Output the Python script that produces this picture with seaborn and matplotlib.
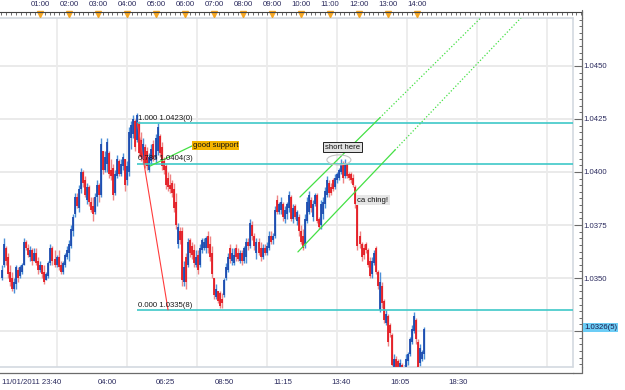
import numpy as np
import pandas as pd
import matplotlib
matplotlib.use("Agg")
import matplotlib.pyplot as plt
import matplotlib.transforms as mtrans
from matplotlib.lines import Line2D
from matplotlib.patches import Ellipse
from matplotlib.ticker import FixedLocator, MultipleLocator
import seaborn as sns

# --- DATA: 5-minute bars, prices in pips above 1.0300 ---
hi = [56, 69, 65, 62, 56, 53, 50, 56, 55, 56,
      57, 69, 68, 66, 65, 64, 64, 64, 60, 58,
      56, 56, 53, 58, 66, 65, 63, 61, 63, 58,
      58, 62, 65, 68, 75, 80, 90, 90, 94, 102,
      101, 98, 95, 94, 88, 88, 90, 96, 95, 116,
      110, 110, 116, 110, 106, 104, 101, 108, 106, 106,
      109, 106, 105, 121, 124, 127, 125, 128, 124, 119,
      116, 113, 112, 109, 113, 115, 118, 123, 118, 114,
      107, 104, 100, 99, 96, 95, 90, 76, 74, 74,
      58, 62, 69, 69, 67, 66, 63, 63, 66, 69,
      69, 70, 72, 70, 65, 50, 47, 44, 44, 43,
      50, 57, 62, 66, 64, 64, 66, 64, 63, 63,
      65, 69, 69, 78, 77, 71, 69, 69, 67, 66,
      66, 67, 72, 72, 71, 84, 89, 86, 88, 86,
      84, 86, 91, 89, 85, 85, 82, 80, 75, 73,
      80, 88, 91, 88, 87, 90, 90, 79, 87, 88,
      93, 98, 96, 95, 97, 99, 100, 102, 106, 105,
      106, 104, 100, 100, 99, 94, 88, 72, 67, 66,
      67, 64, 60, 60, 63, 65, 54, 53, 48, 40,
      35, 33, 29, 24, 14, 13, 12, 12, 10, 9,
      14, 15, 22, 28, 34, 31, 21, 19, 16, 27]
lo = [49, 55, 56, 50, 46, 44, 43, 45, 48, 50,
      52, 56, 63, 60, 58, 56, 58, 56, 52, 53,
      50, 47, 49, 50, 56, 56, 55, 55, 54, 52,
      52, 55, 59, 58, 64, 70, 79, 83, 81, 90,
      93, 88, 85, 84, 81, 77, 80, 84, 86, 88,
      99, 100, 100, 97, 96, 87, 89, 97, 98, 98,
      101, 91, 94, 98, 111, 116, 110, 114, 107, 105,
      104, 102, 101, 100, 104, 105, 104, 108, 107, 101,
      99, 92, 91, 90, 88, 81, 73, 64, 66, 46,
      46, 45, 55, 60, 59, 55, 55, 52, 55, 62,
      63, 62, 62, 58, 50, 40, 40, 38, 36, 36,
      41, 49, 53, 57, 56, 56, 58, 58, 57, 56,
      57, 57, 63, 64, 68, 63, 59, 61, 58, 59,
      61, 61, 63, 66, 66, 69, 80, 80, 80, 77,
      76, 78, 81, 77, 76, 78, 75, 70, 66, 63,
      64, 76, 80, 81, 77, 84, 76, 73, 73, 78,
      83, 88, 88, 89, 91, 92, 95, 96, 99, 95,
      97, 97, 96, 95, 93, 83, 63, 64, 58, 59,
      62, 55, 50, 50, 56, 52, 45, 34, 36, 29,
      28, 18, 22, 6, 6, 5, 5, 4, 4, 4,
      6, 9, 13, 19, 24, 19, 6, 8, 11, 12]
op = [50, 56, 64, 60, 53, 50, 45, 47, 54, 51,
      53, 56, 67, 64, 60, 63, 58, 62, 58, 54,
      56, 53, 49, 51, 57, 64, 59, 56, 60, 56,
      53, 56, 60, 62, 65, 72, 80, 88, 83, 92,
      100, 96, 87, 93, 86, 84, 81, 88, 94, 89,
      110, 101, 104, 109, 101, 102, 90, 98, 105, 99,
      103, 106, 96, 100, 116, 118, 124, 115, 123, 115,
      106, 112, 110, 101, 105, 113, 106, 110, 117, 112,
      105, 103, 97, 94, 95, 92, 86, 66, 72, 72,
      48, 60, 56, 68, 65, 63, 56, 61, 56, 63,
      64, 64, 70, 66, 62, 50, 41, 44, 43, 40,
      42, 50, 54, 64, 58, 57, 64, 62, 58, 62,
      58, 60, 67, 65, 75, 70, 62, 67, 64, 60,
      64, 62, 64, 70, 68, 70, 87, 81, 82, 85,
      78, 80, 83, 88, 78, 84, 77, 79, 72, 70,
      66, 77, 81, 87, 79, 85, 89, 78, 75, 80,
      85, 89, 95, 93, 96, 93, 96, 97, 100, 104,
      98, 104, 99, 99, 97, 93, 86, 70, 66, 64,
      66, 63, 58, 52, 57, 64, 53, 35, 46, 39,
      29, 32, 28, 23, 8, 12, 11, 6, 9, 5,
      8, 11, 14, 20, 25, 30, 20, 10, 12, 14]
cl = [54, 66, 58, 52, 48, 45, 48, 55, 50, 55,
      56, 67, 64, 61, 63, 58, 62, 57, 54, 56,
      52, 48, 52, 57, 64, 58, 56, 60, 55, 53,
      57, 61, 63, 66, 73, 79, 88, 84, 92, 100,
      95, 89, 93, 86, 82, 80, 88, 94, 89, 113,
      101, 107, 114, 99, 98, 89, 99, 106, 99, 104,
      107, 94, 103, 119, 122, 125, 112, 127, 109, 107,
      113, 104, 103, 107, 111, 106, 116, 121, 109, 103,
      101, 94, 93, 92, 90, 83, 75, 74, 68, 49,
      55, 48, 67, 62, 61, 57, 60, 54, 64, 68,
      67, 69, 64, 60, 52, 42, 45, 39, 37, 38,
      49, 55, 60, 59, 62, 61, 60, 59, 62, 58,
      64, 67, 65, 76, 70, 65, 67, 62, 60, 64,
      62, 65, 70, 67, 70, 82, 81, 85, 86, 79,
      82, 85, 89, 78, 83, 79, 81, 72, 67, 64,
      78, 86, 89, 83, 85, 89, 77, 74, 85, 86,
      91, 96, 90, 90, 92, 97, 99, 101, 104, 97,
      104, 98, 97, 96, 94, 85, 65, 66, 60, 61,
      63, 56, 51, 58, 62, 53, 46, 48, 38, 30,
      33, 20, 24, 9, 12, 7, 6, 10, 6, 8,
      12, 14, 21, 26, 32, 21, 8, 17, 15, 26]

x_ticks = [0, 52, 81, 110, 139, 168, 197, 226]
x_labels = ["11/01/2011 23:40", "04:00", "06:25", "08:50",
            "11:15", "13:40", "16:05", "18:30"]
top_hours = list(range(1, 15))
top_labels = ["%02d:00" % h for h in top_hours]
y_ticks = [1.0325, 1.0350, 1.0375, 1.0400, 1.0425, 1.0450]
y_labels = ["", "1.0350", "1.0375", "1.0400", "1.0425", "1.0450"]
fib_levels = [1.0423, 1.0404, 1.0335]
fib_labels = ["1.000 1.0423(0)", "0.786 1.0404(3)", "0.000 1.0335(8)"]
last_price = 1.03265
last_label = "1.0326(5)"

base = 1.0300
df = pd.DataFrame({"high": hi, "low": lo, "open": op, "close": cl}) / 1e4 + base
df["bar"] = np.arange(len(df))
df["up"] = df["close"] >= df["open"]

# --- FIGURE SETUP ---
sns.set_theme(style="white")
plt.rcParams["font.family"] = ["Liberation Sans", "DejaVu Sans"]
W, H = 625, 390
fig = plt.figure(figsize=(W / 100, H / 100), dpi=100)


def box(x0, y0, x1, y1):
    # pixel box (top-left origin) -> figure fraction rect
    return [x0 / W, 1 - y1 / H, (x1 - x0) / W, (y1 - y0) / H]


ax = fig.add_axes(box(0, 18, 573, 367))
ax.set_xlim(-0.99, 282.7)
ax.set_ylim(1.030802, 1.047264)
txt = "#2b2b5e"
frame = "#d3d9e0"
axis_c = "#6b6b6b"

# grid
for y in y_ticks:
    ax.axhline(y, color="#e8e8e8", lw=1.3, zorder=0)
for xg in [27.2, 61.9, 96.5, 131.2, 165.8, 200.5, 235.1, 269.8]:
    ax.axvline(xg, color="#ececec", lw=1.3, zorder=0)

# bars: light wick, darker body
wick_c = np.where(df["up"], "#4a8fd8", "#ef8585")
body_c = np.where(df["up"], "#1746ad", "#e3141c")
ax.vlines(df["bar"], df["low"], df["high"], colors=wick_c, lw=1.0, zorder=2)
ax.vlines(df["bar"], df["open"], df["close"], colors=body_c, lw=1.25, zorder=3)

# fibonacci retracement
ax.hlines(fib_levels, 67, 282.7, color="#3ec8c8", lw=1.2, zorder=4)
for lev, lab in zip(fib_levels, fib_labels):
    ax.text(67.3, lev + 0.00006, lab, fontsize=5.6, color="#1a1a1a",
            va="bottom", ha="left", zorder=6)
sns.lineplot(x=[67, 82.2], y=[1.0423, 1.0335], ax=ax, color="#ff3b3b",
             lw=0.8, sort=False, zorder=4)

# trend lines
green = "#44e044"
sns.lineplot(x=[73.3, 94.1], y=[1.04028, 1.04123], ax=ax, color=green,
             lw=0.9, sort=False, zorder=5)
sns.lineplot(x=[147.5, 187.0], y=[1.03882, 1.04255], ax=ax, color=green,
             lw=0.9, sort=False, zorder=5)
sns.lineplot(x=[187.0, 240.0], y=[1.04255, 1.04755], ax=ax, color=green,
             lw=0.9, sort=False, zorder=5, linestyle=(0, (1, 1.6)))
sns.lineplot(x=[146.5, 194.5], y=[1.03623, 1.04103], ax=ax, color=green,
             lw=0.9, sort=False, zorder=5)
sns.lineplot(x=[194.5, 260.0], y=[1.04103, 1.04758], ax=ax, color=green,
             lw=0.9, sort=False, zorder=5, linestyle=(0, (1, 1.6)))

# annotations
ax.text(94.4, 1.04125, "good support", fontsize=5.6, color="#111", va="center",
        ha="left", zorder=7,
        bbox=dict(boxstyle="square,pad=0.15", fc="#f4b400", ec="none"))
ax.text(168.6, 1.04116, "short here", fontsize=5.6, color="#111", va="center",
        ha="center", zorder=7,
        bbox=dict(boxstyle="square,pad=0.2", fc="#e2e2e2", ec="#222", lw=0.7))
ax.add_patch(Ellipse((166.8, 1.04057), 11.9, 0.00047, fill=False,
                     ec="#c4c4c4", lw=0.8, zorder=6))
ax.text(176.0, 1.03866, "ca ching!", fontsize=5.6, color="#111", va="center",
        ha="left", zorder=7,
        bbox=dict(boxstyle="square,pad=0.2", fc="#e6e6e6", ec="none"))

# axes styling
ax.set_xlabel("")
ax.set_ylabel("")
ax.spines["left"].set_visible(False)
ax.spines["top"].set_color(frame)
ax.spines["top"].set_linewidth(1.2)
for s, off in [("right", 6.5), ("bottom", 4.3)]:
    ax.spines[s].set_position(("outward", off))
    ax.spines[s].set_color(axis_c)
    ax.spines[s].set_linewidth(0.9)
ax.plot([1, 1], [0, 1], transform=ax.transAxes, color=frame, lw=1.2, clip_on=False)
ax.plot([0, 1], [0, 0], transform=ax.transAxes, color=frame, lw=1.2, clip_on=False)

ax.yaxis.tick_right()
ax.set_yticks(y_ticks)
ax.set_yticklabels(y_labels)
ax.yaxis.set_minor_locator(MultipleLocator(0.0025 / 8))
ax.tick_params(axis="y", which="major", direction="in", length=5.8, width=0.8,
               color=axis_c, labelsize=5.6, labelcolor=txt, pad=1.2)
ax.tick_params(axis="y", which="minor", direction="in", length=2.2, width=0.7,
               color=axis_c)

ax.set_xticks(x_ticks)
ax.set_xticklabels(x_labels)
ax.get_xticklabels()[0].set_horizontalalignment("left")
ax.xaxis.set_minor_locator(FixedLocator(np.arange(52 - 14 * 3.625, 283, 3.625)))
ax.tick_params(axis="x", which="major", direction="in", length=3.6, width=0.8,
               color=axis_c, labelsize=5.6, labelcolor=txt, pad=4.5)
ax.tick_params(axis="x", which="minor", direction="in", length=2.2, width=0.7,
               color=axis_c)

# last price marker on the price scale
trans = mtrans.blended_transform_factory(ax.transAxes, ax.transData)
ax.text(1.019, last_price, last_label, transform=trans, fontsize=5.6,
        color="#1a1a4a", va="center", ha="left", clip_on=False, zorder=20,
        bbox=dict(boxstyle="square,pad=0.15", fc="#6ccdf6", ec="none"))

# close the axis frame corners
for (x0, y0, x1, y1) in [(573, 373, 582, 373), (582, 10, 582, 18), (582, 367, 582, 373)]:
    fig.add_artist(Line2D([x0 / W, x1 / W], [1 - y0 / H, 1 - y1 / H],
                          color=axis_c, lw=0.9))

# --- TOP TIME RULER ---
axt = fig.add_axes(box(0, 12, 582, 18))
axt.set_xlim(1 - 40 / 29, 1 + 542 / 29)
axt.set_ylim(0, 1)
for s in ["left", "right", "bottom"]:
    axt.spines[s].set_visible(False)
axt.spines["top"].set_color("#444444")
axt.spines["top"].set_linewidth(0.8)
axt.patch.set_alpha(0)
axt.set_yticks([])
axt.xaxis.tick_top()
axt.set_xticks(top_hours)
axt.set_xticklabels(top_labels)
axt.xaxis.set_minor_locator(MultipleLocator(1 / 6))
axt.tick_params(axis="x", which="major", direction="in", length=0,
                labelsize=5.6, labelcolor=txt, pad=3.2)
axt.tick_params(axis="x", which="minor", direction="in", length=2.0, width=0.6,
                color="#555555")
axt.vlines(top_hours, 0, 0.45, color="#9a9a9a", lw=0.6)
axt.plot(top_hours, [0.72] * len(top_hours), linestyle="none", marker="v",
         markersize=4.2, color="#f5a623", clip_on=False)

fig.savefig("out.png", dpi=100)
